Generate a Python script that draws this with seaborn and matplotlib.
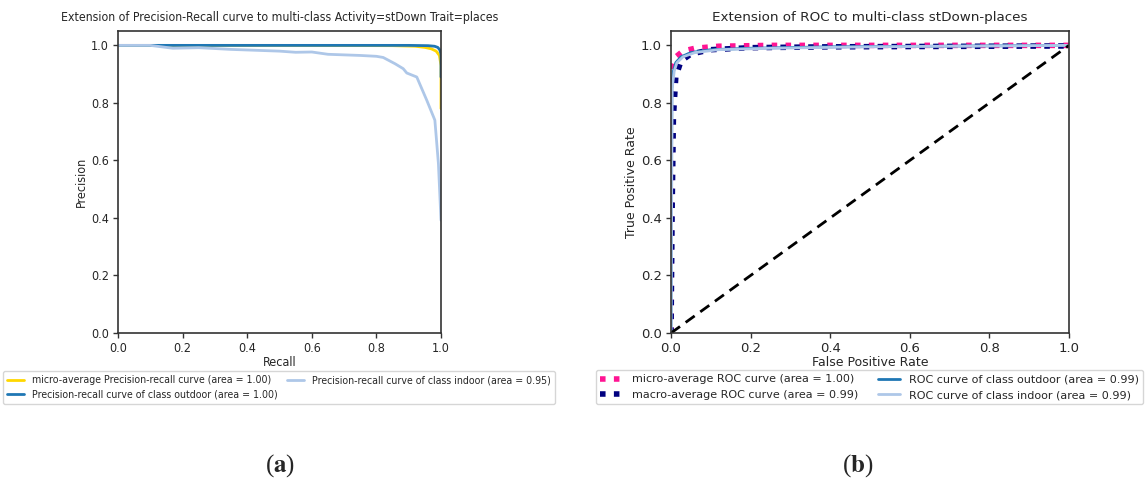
import numpy as np
import pandas as pd
import seaborn as sns
import matplotlib
matplotlib.use("Agg")
import matplotlib.pyplot as plt

# ---------------- data ----------------
# Precision-recall curves (recall, precision)
pr_micro_recall = [0.0, 0.5, 0.85, 0.92, 0.95, 0.97, 0.985, 0.995, 1.0, 1.0]
pr_micro_prec = [1.0, 1.0, 0.999, 0.997, 0.993, 0.988, 0.98, 0.965, 0.93, 0.78]
pr_out_recall = [0.0, 0.5, 0.9, 0.96, 0.98, 0.99, 0.996, 1.0, 1.0]
pr_out_prec = [1.0, 1.0, 1.0, 0.999, 0.997, 0.993, 0.985, 0.97, 0.89]
pr_in_recall = [0.0, 0.1, 0.17, 0.25, 0.35, 0.45, 0.5, 0.55, 0.6, 0.65, 0.7, 0.75,
                0.8, 0.821, 0.858, 0.883, 0.894, 0.925, 0.956, 0.981, 0.992, 1.0]
pr_in_prec = [1.0, 1.0, 0.99, 0.992, 0.986, 0.982, 0.98, 0.976, 0.977, 0.969, 0.967, 0.965,
              0.962, 0.958, 0.936, 0.919, 0.904, 0.890, 0.809, 0.74, 0.589, 0.392]

# ROC curves (fpr, tpr)
roc_micro_fpr = [0.0, 0.0, 0.004, 0.012, 0.03, 0.06, 0.12, 0.25, 1.0]
roc_micro_tpr = [0.0, 0.85, 0.925, 0.96, 0.98, 0.99, 0.997, 1.0, 1.0]
roc_macro_fpr = [0.0, 0.003, 0.006, 0.012, 0.025, 0.05, 0.1, 0.2, 0.4, 1.0]
roc_macro_tpr = [0.0, 0.45, 0.75, 0.89, 0.945, 0.97, 0.985, 0.992, 0.995, 0.998]
roc_out_fpr = [0.0, 0.002, 0.006, 0.012, 0.025, 0.05, 0.1, 0.2, 0.4, 1.0]
roc_out_tpr = [0.0, 0.85, 0.91, 0.94, 0.96, 0.975, 0.985, 0.99, 0.995, 1.0]
roc_in_fpr = [0.0, 0.003, 0.008, 0.015, 0.03, 0.06, 0.12, 0.25, 0.5, 1.0]
roc_in_tpr = [0.0, 0.85, 0.91, 0.94, 0.96, 0.975, 0.985, 0.99, 0.995, 1.0]
chance = [0.0, 1.0]

pr_labels = ["micro-average Precision-recall curve (area = 1.00)",
             "Precision-recall curve of class outdoor (area = 1.00)",
             "Precision-recall curve of class indoor (area = 0.95)"]
roc_labels = ["micro-average ROC curve (area = 1.00)",
              "macro-average ROC curve (area = 0.99)",
              "ROC curve of class outdoor (area = 0.99)",
              "ROC curve of class indoor (area = 0.99)"]
tick_vals = [0.0, 0.2, 0.4, 0.6, 0.8, 1.0]
tick_labels = ["0.0", "0.2", "0.4", "0.6", "0.8", "1.0"]

# ---------------- style ----------------
sns.set_style("ticks")
plt.rcParams["font.family"] = ["DejaVu Sans"]
plt.rcParams["mathtext.fontset"] = "stix"

fig = plt.figure(figsize=(11.45, 4.82), dpi=100)
ax1 = fig.add_axes([118 / 1145, 1 - 333 / 482, (441 - 118) / 1145, (333 - 31) / 482])
ax2 = fig.add_axes([671 / 1145, 1 - 333 / 482, (1069 - 671) / 1145, (333 - 31) / 482])

cond = dict(fontstretch="condensed")


def line(ax, x, y, **kw):
    df = pd.DataFrame({"x": x, "y": y})
    sns.lineplot(data=df, x="x", y="y", ax=ax, sort=False, estimator=None, **kw)


# ---- left: PR ----
line(ax1, pr_micro_recall, pr_micro_prec, color="gold", lw=2, label=pr_labels[0])
line(ax1, pr_out_recall, pr_out_prec, color="#1f77b4", lw=2, label=pr_labels[1])
line(ax1, pr_in_recall, pr_in_prec, color="#aec7e8", lw=2, label=pr_labels[2])
ax1.set_xlim(0, 1)
ax1.set_ylim(0, 1.05)
ax1.set_xticks(tick_vals)
ax1.set_yticks(tick_vals)
ax1.set_xticklabels(tick_labels, fontsize=9, **cond)
ax1.set_yticklabels(tick_labels, fontsize=9, **cond)
ax1.set_xlabel("Recall", fontsize=9, labelpad=1, **cond)
ax1.set_ylabel("Precision", fontsize=9, labelpad=2, **cond)
ax1.set_title("Extension of Precision-Recall curve to multi-class Activity=stDown Trait=places",
              fontsize=8.8, pad=7, **cond)
h, l = ax1.get_legend_handles_labels()
leg1 = ax1.legend(h, l, loc="upper center", bbox_to_anchor=(279 / 1145, 1 - 371 / 482),
                  bbox_transform=fig.transFigure, ncol=2,
                  prop={"size": 7.6, "stretch": "condensed"}, frameon=True,
                  borderaxespad=0, handlelength=1.6, columnspacing=0.8, labelspacing=0.45)
leg1.get_frame().set_edgecolor("#cccccc")

# ---- right: ROC ----
line(ax2, roc_micro_fpr, roc_micro_tpr, color="deeppink", lw=4, linestyle=":", label=roc_labels[0])
line(ax2, roc_macro_fpr, roc_macro_tpr, color="navy", lw=4, linestyle=":", label=roc_labels[1])
line(ax2, roc_out_fpr, roc_out_tpr, color="#1f77b4", lw=2, label=roc_labels[2])
line(ax2, roc_in_fpr, roc_in_tpr, color="#aec7e8", lw=2, label=roc_labels[3])
line(ax2, chance, chance, color="black", lw=2, linestyle="--")
for ln in ax2.get_lines()[:2]:
    ln.set_dashes([1, 1.5])
ax2.get_lines()[4].set_dashes([4, 2.5])
ax2.set_xlim(0, 1)
ax2.set_ylim(0, 1.05)
ax2.set_xticks(tick_vals)
ax2.set_yticks(tick_vals)
ax2.set_xticklabels(tick_labels, fontsize=9.5)
ax2.set_yticklabels(tick_labels, fontsize=9.5)
ax2.set_xlabel("False Positive Rate", fontsize=9, labelpad=1)
ax2.set_ylabel("True Positive Rate", fontsize=9, labelpad=2)
ax2.set_title("Extension of ROC to multi-class stDown-places", fontsize=9.7, pad=7)
h, l = ax2.get_legend_handles_labels()
leg2 = ax2.legend(h[:4], l[:4], loc="upper left", bbox_to_anchor=(596 / 1145, 1 - 370 / 482),
                  bbox_transform=fig.transFigure, ncol=2, fontsize=8.0, frameon=True,
                  borderaxespad=0, handlelength=2.0, columnspacing=1.8, labelspacing=0.5)
leg2.get_frame().set_edgecolor("#cccccc")

for ax in (ax1, ax2):
    for s in ax.spines.values():
        s.set_visible(True)
        s.set_color("#333333")
        s.set_linewidth(1.2)
    ax.tick_params(length=3.5, width=1, color="#333333", pad=3)

# captions
fig.text(280 / 1145, 1 - 466 / 482, r"($\mathbf{a}$)", ha="center", va="center",
         fontsize=18, family="Liberation Serif")
fig.text(858 / 1145, 1 - 466 / 482, r"($\mathbf{b}$)", ha="center", va="center",
         fontsize=18, family="Liberation Serif")

fig.savefig("out.png", dpi=100)
